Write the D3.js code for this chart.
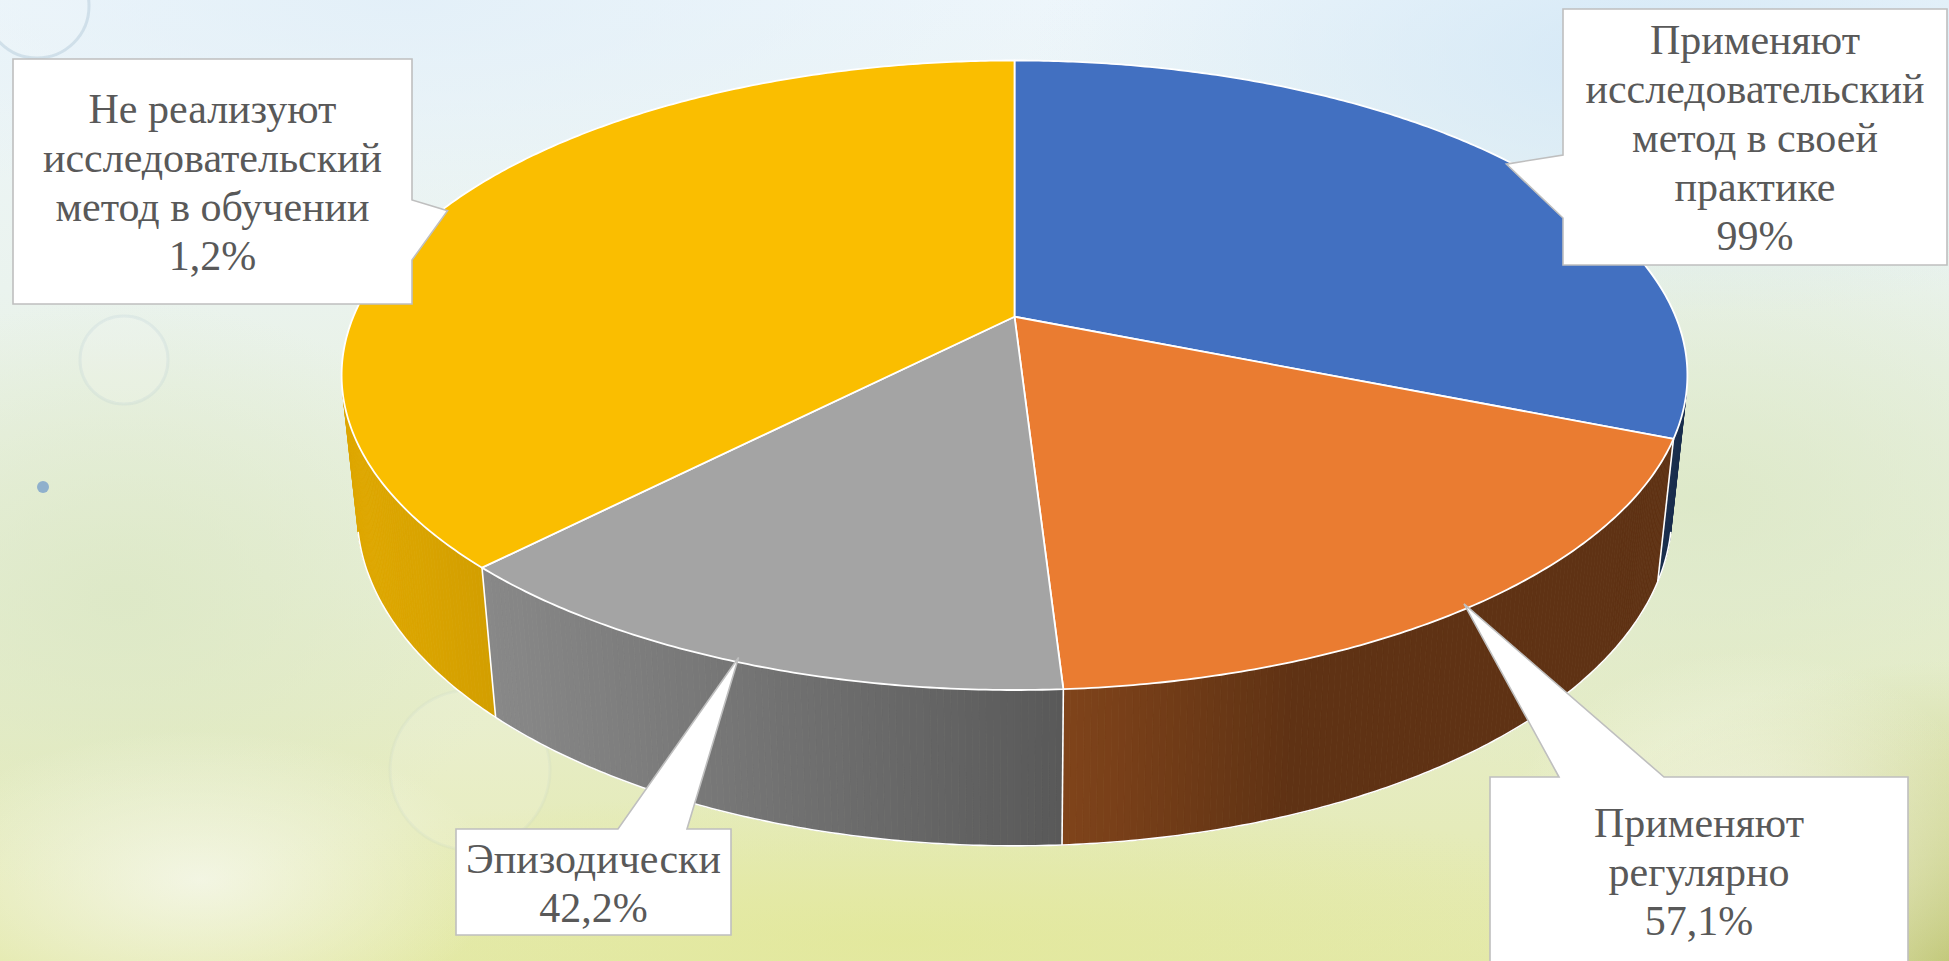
<!DOCTYPE html>
<html><head><meta charset="utf-8">
<script src="https://cdn.jsdelivr.net/npm/d3@7"></script>
<style>html,body{margin:0;padding:0;overflow:hidden;background:#eef4ee}</style>
</head><body>
<svg id="chart" width="1949" height="961"></svg>
<script>
// ---------------- DATA ----------------
const categories = [
  "Применяют исследовательский метод в своей практике",
  "Применяют регулярно",
  "Эпизодически",
  "Не реализуют исследовательский метод в обучении"
];
const sliceValues = [99, 57.1, 42.2, 120];          // slice sizes as drawn in the picture
const labelLines = [
  ["Применяют", "исследовательский", "метод в своей", "практике"],
  ["Применяют", "регулярно"],
  ["Эпизодически"],
  ["Не реализуют", "исследовательский", "метод в обучении"]
];
const labelValues = ["99%", "57,1%", "42,2%", "1,2%"];
const topColors = ["#4270C1", "#EA7C31", "#A4A4A4", "#FABE00"];
const baseColors = ["#4472C4", "#ED7D31", "#A5A5A5", "#FFC000"];

// ---------------- LAYOUT ----------------
const W = 1949, H = 961;
const view = {cx: 1014.5, cy: 316.7, f: 3157, D: 4.775, phi: Math.asin(0.4596), h: 0.2366};
const callouts = [
  {box: [1563, 9, 1947, 265], side: "left", base: [155, 218]},
  {box: [1490, 777, 1908, 965], side: "top", base: [1559, 1664]},
  {box: [456, 829, 731, 935], side: "top", base: [618, 687]},
  {box: [13, 59, 412, 304], side: "right", base: [200, 260]}
];

const svg = d3.select("#chart");
const defs = svg.append("defs");

// ---------------- BACKGROUND ----------------
const lg = defs.append("linearGradient").attr("id", "bg").attr("x1", 0).attr("y1", 0).attr("x2", 0).attr("y2", 1);
[[0, "#eef6fb"], [0.3, "#eaf3ee"], [0.6, "#e7efd6"], [1, "#e4e9ac"]].forEach(s =>
  lg.append("stop").attr("offset", s[0]).attr("stop-color", s[1]));
svg.append("rect").attr("width", W).attr("height", H).attr("fill", "url(#bg)");

function radial(id, color, op) {
  const g = defs.append("radialGradient").attr("id", id);
  g.append("stop").attr("offset", 0).attr("stop-color", color).attr("stop-opacity", op);
  g.append("stop").attr("offset", 1).attr("stop-color", color).attr("stop-opacity", 0);
}
radial("gBlue", "#d2e7f6", 0.9);
radial("gBlue2", "#e2eff8", 0.9);
radial("gOlive", "#bcc270", 0.85);
radial("gGreen", "#dbe7c4", 0.8);
radial("gYel", "#e2e896", 0.7);
radial("gWhite", "#f6f8ee", 0.8);
const blobs = [
  [1650, 60, 620, 260, "gBlue"], [400, 0, 700, 220, "gBlue2"], [1949, 961, 420, 300, "gOlive"],
  [120, 600, 400, 300, "gGreen"], [1700, 500, 500, 300, "gGreen"], [900, 940, 800, 150, "gYel"],
  [200, 880, 300, 150, "gWhite"], [1750, 850, 250, 200, "gWhite"]
];
blobs.forEach(b => svg.append("ellipse").attr("cx", b[0]).attr("cy", b[1]).attr("rx", b[2]).attr("ry", b[3]).attr("fill", `url(#${b[4]})`));
const rings = [[37, 6, 52, 0.3], [124, 360, 44, 0.13], [470, 770, 80, 0.08]];
rings.forEach(r => svg.append("circle").attr("cx", r[0]).attr("cy", r[1]).attr("r", r[2])
  .attr("fill", "rgba(255,255,255,0.12)").attr("stroke", `rgba(150,180,200,${r[3]})`).attr("stroke-width", 3));
svg.append("circle").attr("cx", 43).attr("cy", 487).attr("r", 6).attr("fill", "#8fb0cc");

// ---------------- PIE GEOMETRY ----------------
const pie = d3.pie().sort(null).value(d => d).startAngle(0).endAngle(2 * Math.PI);
const arcs = pie(sliceValues);
const rScale = d3.scaleLinear().domain([0, 1]).range([0, 1]);
const sP = Math.sin(view.phi), cP = Math.cos(view.phi);
function proj(theta, r, y) {
  const X = rScale(r) * Math.sin(theta), Z = -rScale(r) * Math.cos(theta);
  const depth = view.D - y * sP - Z * cP;
  return [view.cx + view.f * X / depth, view.cy + view.f * (Z * sP - y * cP) / depth];
}
const line = d3.line();
const step = Math.PI / 360;
function arcPts(a0, a1, r, y) {
  const n = Math.max(2, Math.ceil((a1 - a0) / step));
  return d3.range(n + 1).map(i => proj(a0 + (a1 - a0) * i / n, r, y));
}
// visible range of outer wall
const tVis = 1 / (view.D * cP);
const thMin = Math.acos(-tVis), thMax = 2 * Math.PI - thMin;
function light(theta) {
  return 0.40 + 0.55 * Math.max(0, -0.8 * Math.sin(theta) - 0.3 * Math.cos(theta));
}
const gSide = svg.append("g");
arcs.forEach((a, i) => {
  const t0 = Math.max(a.startAngle, thMin), t1 = Math.min(a.endAngle, thMax);
  if (t0 >= t1) return;
  const n = Math.max(1, Math.ceil((t1 - t0) / step));
  const base = d3.rgb(baseColors[i]);
  for (let k = 0; k < n; k++) {
    const a0 = t0 + (t1 - t0) * k / n, a1 = t0 + (t1 - t0) * (k + 1) / n;
    const b = light((a0 + a1) / 2);
    const col = d3.rgb(base.r * b, base.g * b, base.b * b).formatHex();
    gSide.append("path")
      .attr("d", line([proj(a0, 1, 0), proj(a1, 1, 0), proj(a1, 1, -view.h), proj(a0, 1, -view.h)]) + "Z")
      .attr("fill", col).attr("stroke", col).attr("stroke-width", 0.8);
  }
});
// white outlines of wall
gSide.append("path").attr("d", line(arcPts(thMin, thMax, 1, -view.h)))
  .attr("fill", "none").attr("stroke", "#fff").attr("stroke-width", 1.6);
arcs.forEach(a => {
  const t = a.startAngle;
  if (t > thMin && t < thMax) {
    gSide.append("path").attr("d", line([proj(t, 1, 0), proj(t, 1, -view.h)]))
      .attr("fill", "none").attr("stroke", "#fff").attr("stroke-width", 1.6);
  }
});
// top faces
const gTop = svg.append("g");
arcs.forEach((a, i) => {
  const pts = [proj(0, 0, 0)].concat(arcPts(a.startAngle, a.endAngle, 1, 0));
  gTop.append("path").attr("d", line(pts) + "Z")
    .attr("fill", topColors[i]).attr("stroke", "#fff").attr("stroke-width", 1.8).attr("stroke-linejoin", "round");
});

// ---------------- CALLOUT LABELS ----------------
const gLab = svg.append("g");
arcs.forEach((a, i) => {
  const c = callouts[i];
  const [x0, y0, x1, y1] = c.box;
  const tip = proj((a.startAngle + a.endAngle) / 2, 0.99, 0);
  let pts;
  if (c.side === "left") pts = [[x0, y0], [x1, y0], [x1, y1], [x0, y1], [x0, c.base[1]], tip, [x0, c.base[0]]];
  else if (c.side === "right") pts = [[x0, y0], [x1, y0], [x1, c.base[0]], tip, [x1, c.base[1]], [x1, y1], [x0, y1]];
  else pts = [[x0, y0], [c.base[0], y0], tip, [c.base[1], y0], [x1, y0], [x1, y1], [x0, y1]];
  gLab.append("path").attr("d", line(pts) + "Z")
    .attr("fill", "#fff").attr("stroke", "#bfbfbf").attr("stroke-width", 1.6).attr("stroke-linejoin", "miter");
  const lines = labelLines[i].concat([labelValues[i]]);
  const lh = 49;
  const cyb = (y0 + y1) / 2 - (lines.length - 1) * lh / 2 + 15;
  const txt = gLab.append("text")
    .style("font-family", "\"Liberation Serif\", \"Times New Roman\", serif")
    .style("font-size", "42px").attr("fill", "#595959").attr("text-anchor", "middle");
  lines.forEach((l, j) => txt.append("tspan").attr("x", (x0 + x1) / 2).attr("y", cyb + j * lh).text(l));
});
</script>
</body></html>
